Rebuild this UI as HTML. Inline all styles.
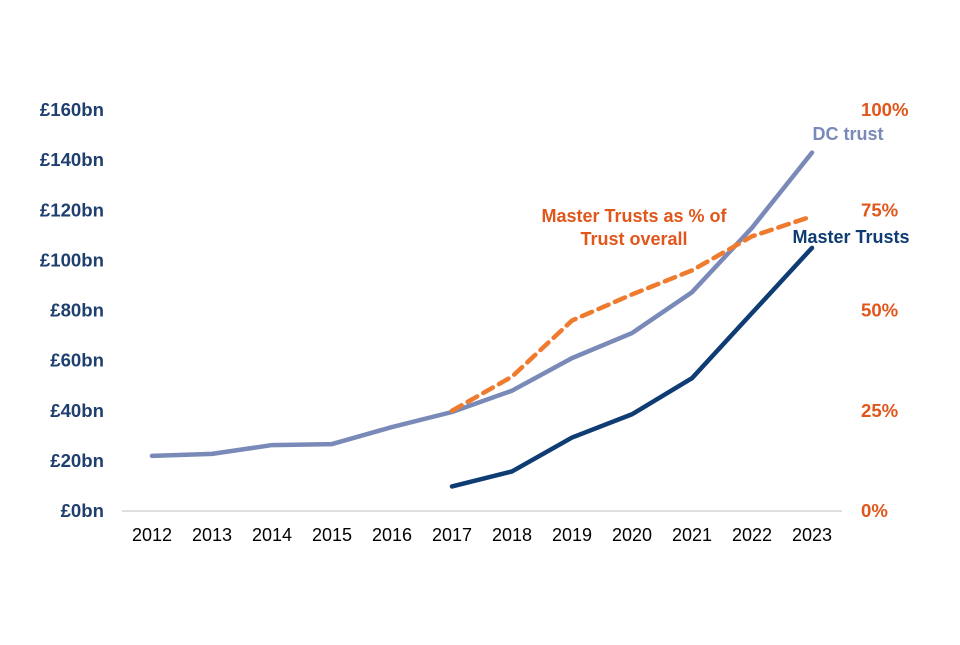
<!DOCTYPE html>
<html><head><meta charset="utf-8"><style>
body{margin:0;background:#fff}
svg text{font-family:"Liberation Sans",Arial,sans-serif}
</style></head><body>
<svg id="c" width="960" height="640" xmlns="http://www.w3.org/2000/svg"></svg>
<script>
const years=[2012,2013,2014,2015,2016,2017,2018,2019,2020,2021,2022,2023];
const dcTrust=[22,22.8,26.3,26.7,33.5,39.5,48,61,71,87.3,113,143];
const masterTrusts=[null,null,null,null,null,9.8,15.8,29.3,38.6,53,79,105];
const mtPct=[null,null,null,null,null,25,33.5,47.5,54,60,68.5,73.5];
const leftTicks=[0,20,40,60,80,100,120,140,160];
const leftTickLabels=["£0bn","£20bn","£40bn","£60bn","£80bn","£100bn","£120bn","£140bn","£160bn"];
const rightTicks=[0,25,50,75,100];
const rightTickLabels=["0%","25%","50%","75%","100%"];

const svg=document.getElementById('c');
const NS='http://www.w3.org/2000/svg';
const y0=511,yTop=110;
const xS=i=>152+i*60;
const yL=v=>y0-(v/160)*(y0-yTop);
const yR=v=>y0-(v/100)*(y0-yTop);
function mk(t,a,txt){const e=document.createElementNS(NS,t);for(const k in a)e.setAttribute(k,a[k]);if(txt!=null)e.textContent=txt;svg.appendChild(e);return e;}

let ax=mk('line',{x1:122,x2:842,y1:y0,y2:y0,stroke:'#bfbfbf','stroke-width':1});


years.forEach((yr,i)=>{
  let t=mk('text',{x:xS(i),y:541,'text-anchor':'middle','font-size':18,fill:'#000'},yr);
  
  
});
leftTicks.forEach((v,i)=>{
  let t=mk('text',{x:104,y:yL(v)+6,'text-anchor':'end','font-size':18.6,'font-weight':'bold',fill:'#1f3f6f'},leftTickLabels[i]);
  
  
});
rightTicks.forEach((v,i)=>{
  let t=mk('text',{x:861,y:yR(v)+6,'text-anchor':'start','font-size':18.6,'font-weight':'bold',fill:'#e0561b'},rightTickLabels[i]);
  
  
});
function path(arr,yf){let d='';arr.forEach((v,i)=>{if(v==null)return;d+=(d?'L':'M')+xS(i)+','+yf(v);});return d;}
let p1=mk('path',{d:path(dcTrust,yL),fill:'none',stroke:'#7a8ab8','stroke-width':4.5,'stroke-linejoin':'round','stroke-linecap':'round'});


let p2=mk('path',{d:path(masterTrusts,yL),fill:'none',stroke:'#0e3c73','stroke-width':4.5,'stroke-linejoin':'round','stroke-linecap':'round'});


let p3=mk('path',{d:path(mtPct,yR),fill:'none',stroke:'#ef7b2f','stroke-width':4.5,'stroke-dasharray':'11,7','stroke-linejoin':'round','stroke-linecap':'round'});



let l1=mk('text',{x:848,y:140,'text-anchor':'middle','font-size':18,'font-weight':'bold',fill:'#7a8ab8'},'DC trust');


let l2=mk('text',{x:851,y:243,'text-anchor':'middle','font-size':18,'font-weight':'bold',fill:'#0e3c73'},'Master Trusts');


let l3=mk('text',{x:634,y:222,'text-anchor':'middle','font-size':18,'font-weight':'bold',fill:'#e0561b'},'Master Trusts as % of');


let l4=mk('text',{x:634,y:245,'text-anchor':'middle','font-size':18,'font-weight':'bold',fill:'#e0561b'},'Trust overall');


</script>
</body></html>
